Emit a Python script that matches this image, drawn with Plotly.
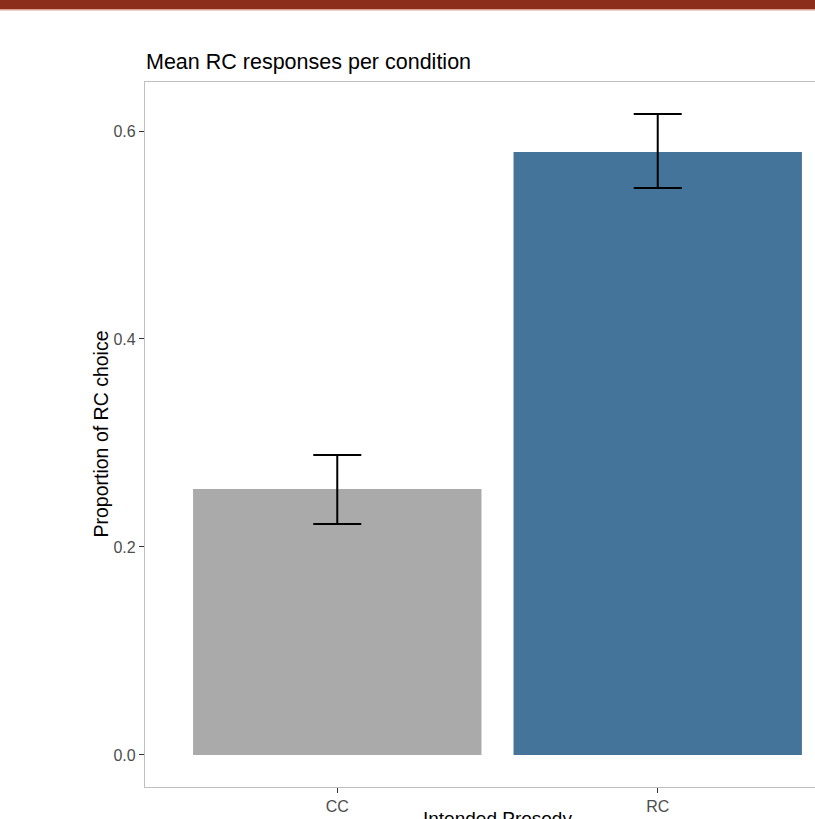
import plotly.graph_objects as go

categories = ["CC", "RC"]
means = [0.2558, 0.5798]
ci_upper = [0.2885, 0.6163]
ci_lower = [0.2221, 0.5452]
bar_colors = ["#AAAAAA", "#44749A"]

W, H = 850, 819
L, T, B, R = 145, 82, 32, 0

err_plus = [u - m for u, m in zip(ci_upper, means)]
err_minus = [m - l for m, l in zip(means, ci_lower)]

fig = go.Figure()
fig.add_trace(go.Bar(
    x=[0, 1], y=means, width=0.9,
    marker=dict(color=bar_colors, line=dict(width=0)),
    error_y=dict(type="data", symmetric=False, array=err_plus, arrayminus=err_minus,
                 color="black", thickness=2, width=24),
    showlegend=False,
))

ymax = max(ci_upper)
pad = 0.05 * ymax
plot_h = H - T - B
plot_w = W - L - R

fig.update_layout(
    width=W, height=H,
    margin=dict(l=L, r=R, t=T, b=B, pad=0),
    paper_bgcolor="white", plot_bgcolor="white",
    font=dict(family="Liberation Sans, Arial, sans-serif", color="#4D4D4D"),
    title=dict(text="Mean RC responses per condition", x=146 / W, xanchor="left",
               xref="container", yref="container", y=1 - 61 / H, yanchor="middle",
               font=dict(size=21.5, color="black")),
    xaxis=dict(range=[-0.6, 1.6], tickmode="array", tickvals=[0, 1], ticktext=categories,
               showgrid=False, zeroline=False, showline=True, linecolor="#BFBFBF", linewidth=1.3,
               mirror=True, ticks="outside", ticklen=5, tickcolor="#333333", tickwidth=1.3,
               tickfont=dict(size=16, color="#4D4D4D")),
    yaxis=dict(range=[-pad, ymax + pad], tickvals=[0, 0.2, 0.4, 0.6],
               ticktext=["0.0", "0.2", "0.4", "0.6"],
               showgrid=False, zeroline=False, showline=True, linecolor="#BFBFBF", linewidth=1.3,
               mirror=True, ticks="outside", ticklen=5, tickcolor="#333333", tickwidth=1.3,
               tickfont=dict(size=16, color="#4D4D4D")),
    bargap=0.1,
)

# Y title
fig.add_annotation(text="Proportion of RC choice", xref="paper", yref="paper",
                   x=(100 - L) / plot_w, y=0.5, xanchor="center", yanchor="middle",
                   textangle=-90, showarrow=False, font=dict(size=19.5, color="black"))
# X title (cut at bottom)
fig.add_annotation(text="Intended Prosody", xref="x", yref="paper",
                   x=0.5, y=0, xanchor="center", yanchor="top", yshift=-(806 - (H - B)),
                   showarrow=False, font=dict(size=19, color="black"))

# Top banner
fig.add_shape(type="rect", xref="paper", yref="paper",
              x0=-L / plot_w, x1=1.01, y0=1 + (T - 9) / plot_h, y1=1 + T / plot_h + 0.01,
              fillcolor="#8C2C1A", line=dict(width=0), layer="above")
fig.add_shape(type="rect", xref="paper", yref="paper",
              x0=-L / plot_w, x1=1.01, y0=1 + (T - 10.5) / plot_h, y1=1 + (T - 9) / plot_h,
              fillcolor="#DDA08F", line=dict(width=0), layer="above")

fig.write_html("out.html")
